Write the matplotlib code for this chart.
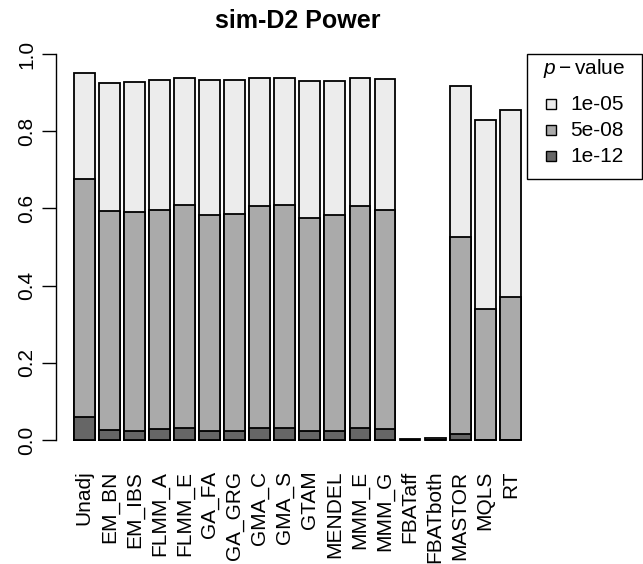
import numpy as np
import matplotlib.pyplot as plt
from matplotlib.patches import Rectangle

plt.rcParams['font.family'] = ['Liberation Sans', 'DejaVu Sans']
plt.rcParams['mathtext.fontset'] = 'custom'
plt.rcParams['mathtext.rm'] = 'Liberation Sans'
plt.rcParams['mathtext.it'] = 'Liberation Sans:italic'

methods = ['Unadj', 'EM_BN', 'EM_IBS', 'FLMM_A', 'FLMM_E', 'GA_FA', 'GA_GRG',
           'GMA_C', 'GMA_S', 'GTAM', 'MENDEL', 'MMM_E', 'MMM_G', 'FBATaff',
           'FBATboth', 'MASTOR', 'MQLS', 'RT']
power_1e05 = [0.951, 0.926, 0.928, 0.934, 0.937, 0.933, 0.933, 0.938, 0.938,
              0.930, 0.931, 0.937, 0.935, 0.002, 0.006, 0.917, 0.829, 0.855]
power_5e08 = [0.676, 0.593, 0.590, 0.597, 0.608, 0.583, 0.586, 0.607, 0.608,
              0.574, 0.582, 0.607, 0.597, 0.0, 0.0, 0.527, 0.339, 0.371]
power_1e12 = [0.060, 0.026, 0.023, 0.028, 0.030, 0.023, 0.024, 0.030, 0.030,
              0.024, 0.022, 0.030, 0.028, 0.0, 0.0, 0.016, 0.0, 0.0]
levels = ['1e-05', '5e-08', '1e-12']
colors = ['#ECECEC', '#AAAAAA', '#666666']

W, H = 643, 564
fig = plt.figure(figsize=(W / 100, H / 100), dpi=100)
ax = fig.add_axes([56 / W, 108.6 / H, 482.6 / W, 416.8 / H])


def px(x, y):
    # pixel position (from top-left) -> figure fraction
    return x / W, 1 - y / H


# R barplot layout: width 1, space 0.2
x = 0.7 + 1.2 * np.arange(len(methods))
for vals, col, z in zip([power_1e05, power_5e08, power_1e12], colors, [2, 3, 4]):
    ax.bar(x, vals, width=1.0, color=col, edgecolor='black', linewidth=1.3, zorder=z)

ax.set_xlim(0.2 - 0.856, 21.6 + 0.856)
ax.set_ylim(-0.04, 1.04)

for s in ['top', 'right', 'bottom']:
    ax.spines[s].set_visible(False)
ax.spines['left'].set_bounds(0, 1)
ax.spines['left'].set_linewidth(1.0)

ax.set_yticks(np.arange(0, 1.01, 0.2))
ax.set_yticklabels(['0.0', '0.2', '0.4', '0.6', '0.8', '1.0'])
ax.tick_params(axis='y', length=10, width=1.0, labelsize=15, pad=4)
for lab in ax.get_yticklabels():
    lab.set_rotation(90)
    lab.set_va('center')

ax.set_xticks(x)
ax.set_xticklabels(methods, rotation=90, fontsize=15)
ax.tick_params(axis='x', length=0, pad=11)

ax.set_title('sim-D2 Power', fontsize=18, fontweight='bold', pad=7.6)

# legend box drawn like R's legend()
x0, y0 = px(527, 54)
x1, y1 = px(641.5, 179)
fig.add_artist(Rectangle((x0, y1), x1 - x0, y0 - y1, transform=fig.transFigure,
                         facecolor='white', edgecolor='black', linewidth=1.0))
tx, ty = px(543, 68)
fig.text(tx, ty, r'$p - \mathrm{value}$', fontsize=15, ha='left', va='center')
for i, (lev, col) in enumerate(zip(levels, colors)):
    yy = 104 + 26 * i
    sx, sy = px(546, yy + 5)
    fig.add_artist(Rectangle((sx, sy), 10 / W, 10 / H, transform=fig.transFigure,
                             facecolor=col, edgecolor='black', linewidth=1.0))
    lx, ly = px(570, yy)
    fig.text(lx, ly, lev, fontsize=15, ha='left', va='center')

fig.savefig('out.png', dpi=100)
